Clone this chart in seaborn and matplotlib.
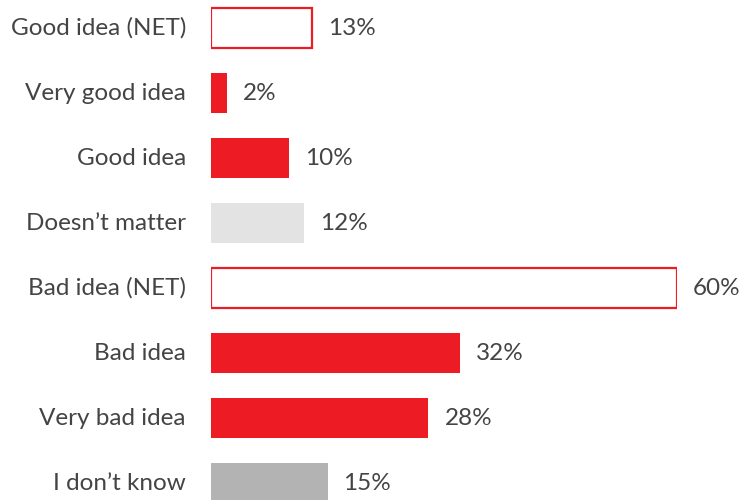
import matplotlib
matplotlib.use("Agg")
import matplotlib.pyplot as plt
import seaborn as sns
import pandas as pd

categories = ["Good idea (NET)", "Very good idea", "Good idea", "Doesn\u2019t matter",
              "Bad idea (NET)", "Bad idea", "Very bad idea", "I don\u2019t know"]
values = [13, 2, 10, 12, 60, 32, 28, 15]
net_rows = ["Good idea (NET)", "Bad idea (NET)"]

RED = "#ED1C24"
bar_colors = ["#FFFFFF", RED, RED, "#E3E3E3", "#FFFFFF", RED, RED, "#B3B3B3"]
TEXT = "#444444"

sns.set_theme(style="white")
plt.rcParams["font.family"] = ["Lato", "DejaVu Sans"]

df = pd.DataFrame({"category": categories, "value": values})

fig = plt.figure(figsize=(7.4, 5.0), dpi=100)
ax = fig.add_axes([211 / 740, 0, (677 - 211) / 740, 1])

sns.barplot(data=df, x="value", y="category", hue="category",
            palette=dict(zip(categories, bar_colors)), order=categories,
            legend=False, width=0.62, ax=ax, saturation=1)

for patch, cat in zip(ax.patches, categories):
    if cat in net_rows:
        patch.set_edgecolor(RED)
        patch.set_linewidth(1.6)
    else:
        patch.set_linewidth(0)

ax.set_xlim(0, 60)
ax.set_ylim(7.26, -0.431)
ax.set_xlabel("")
ax.set_ylabel("")
ax.set_xticks([])
ax.set_yticks([])
for s in ax.spines.values():
    s.set_visible(False)

for i, (cat, v) in enumerate(zip(categories, values)):
    ax.annotate(cat, xy=(0, i), xytext=(-25, 0), textcoords="offset pixels",
                ha="right", va="center", fontsize=17.5,
                color=TEXT, annotation_clip=False)
    ax.annotate(f"{v}%", xy=(v, i), xytext=(16, 0), textcoords="offset pixels",
                ha="left", va="center", fontsize=17.5,
                color=TEXT, annotation_clip=False)

fig.savefig("out.png", dpi=100)
